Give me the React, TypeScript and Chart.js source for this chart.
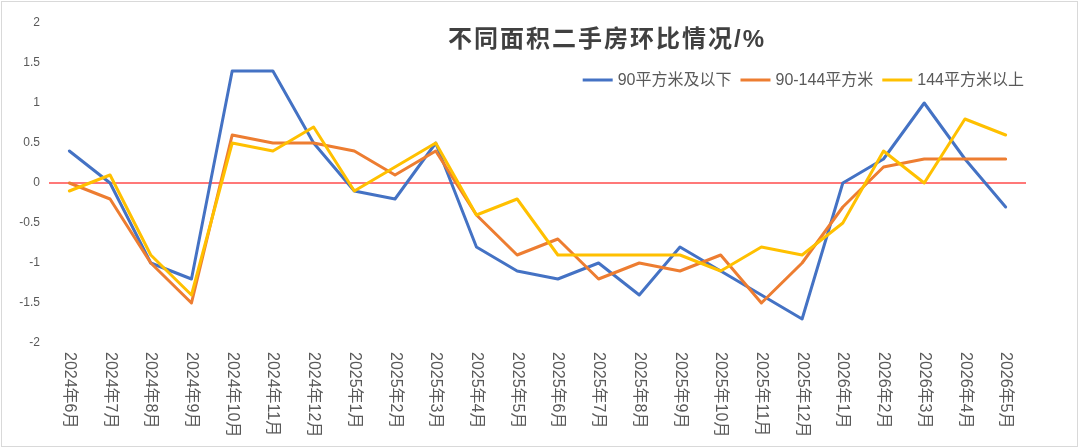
import React, { useEffect, useRef } from "react";
import { Chart, registerables } from "chart.js";

Chart.register(...registerables);

const categories = [
  "2024年6月", "2024年7月", "2024年8月", "2024年9月", "2024年10月", "2024年11月", "2024年12月",
  "2025年1月", "2025年2月", "2025年3月", "2025年4月", "2025年5月", "2025年6月", "2025年7月",
  "2025年8月", "2025年9月", "2025年10月", "2025年11月", "2025年12月",
  "2026年1月", "2026年2月", "2026年3月", "2026年4月", "2026年5月",
];

const seriesNames = ["90平方米及以下", "90-144平方米", "144平方米以上"];

const smallArea = [0.4, 0, -1, -1.2, 1.4, 1.4, 0.5, -0.1, -0.2, 0.5, -0.8, -1.1, -1.2, -1.0, -1.4, -0.8, -1.1, -1.4, -1.7, 0, 0.3, 1.0, 0.3, -0.3];
const mediumArea = [0, -0.2, -1.0, -1.5, 0.6, 0.5, 0.5, 0.4, 0.1, 0.4, -0.4, -0.9, -0.7, -1.2, -1.0, -1.1, -0.9, -1.5, -1.0, -0.3, 0.2, 0.3, 0.3, 0.3];
const largeArea = [-0.1, 0.1, -0.9, -1.4, 0.5, 0.4, 0.7, -0.1, 0.2, 0.5, -0.4, -0.2, -0.9, -0.9, -0.9, -0.9, -1.1, -0.8, -0.9, -0.5, 0.4, 0, 0.8, 0.6];

const yTicks = [-2, -1.5, -1, -0.5, 0, 0.5, 1, 1.5, 2];
const zeroLineValue = 0;
const titleText = "不同面积二手房环比情况/%";
const seriesColors = ["#4472C4", "#ED7D31", "#FFC000"];

const LATIN_CJK = "'Liberation Sans', 'Noto Sans CJK SC', sans-serif";

const overlayPlugin = {
  id: "overlay",
  beforeDatasetsDraw(chart: any) {
    const { ctx, chartArea, scales } = chart;
    const py = Math.round(scales.y.getPixelForValue(zeroLineValue));
    ctx.save();
    ctx.strokeStyle = "rgba(255,30,30,0.8)";
    ctx.lineWidth = 1.6;
    ctx.beginPath();
    ctx.moveTo(chartArea.left, py);
    ctx.lineTo(chartArea.right, py);
    ctx.stroke();
    ctx.restore();
  },
  afterDraw(chart: any) {
    const { ctx, chartArea, scales } = chart;
    const xs = scales.x;
    ctx.save();

    // rotated category labels (clockwise, reading top-to-bottom)
    ctx.fillStyle = "#595959";
    ctx.font = `16px ${LATIN_CJK}`;
    ctx.textAlign = "left";
    ctx.textBaseline = "middle";
    categories.forEach((c, i) => {
      const px = xs.getPixelForTick(i);
      ctx.save();
      ctx.translate(px, chartArea.bottom + 9);
      ctx.rotate(Math.PI / 2);
      ctx.fillText(c, 0, 0);
      ctx.restore();
    });

    // title
    ctx.save();
    ctx.fillStyle = "#404040";
    ctx.font = `bold 24px ${LATIN_CJK}`;
    (ctx as any).letterSpacing = "2px";
    ctx.textAlign = "center";
    ctx.textBaseline = "middle";
    ctx.fillText(titleText, 605, 38);
    ctx.restore();

    // legend
    ctx.font = `16px ${LATIN_CJK}`;
    ctx.textAlign = "left";
    ctx.textBaseline = "middle";
    const ds = chart.data.datasets;
    const lineW = 30;
    const gap = 5;
    const itemGap = 9;
    const widths = ds.map((d: any) => ctx.measureText(d.label).width);
    const total = widths.reduce((a: number, w: number) => a + lineW + gap + w, 0) + itemGap * (ds.length - 1);
    let x = chartArea.right - 2 - total;
    const y = 78;
    ds.forEach((d: any, i: number) => {
      ctx.strokeStyle = d.borderColor;
      ctx.lineWidth = 3;
      ctx.beginPath();
      ctx.moveTo(x, y);
      ctx.lineTo(x + lineW, y);
      ctx.stroke();
      ctx.fillStyle = "#595959";
      ctx.fillText(d.label, x + lineW + gap, y + 1);
      x += lineW + gap + widths[i] + itemGap;
    });

    ctx.restore();
  },
};

export default function App() {
  const ref = useRef<HTMLCanvasElement | null>(null);

  useEffect(() => {
    if (!ref.current) return;
    const series = [smallArea, mediumArea, largeArea];
    const chart = new Chart(ref.current, {
      type: "line",
      data: {
        labels: categories,
        datasets: series.map((data, i) => ({
          label: seriesNames[i],
          data,
          borderColor: seriesColors[i],
          backgroundColor: seriesColors[i],
          borderWidth: 3,
          pointRadius: 0,
          pointHoverRadius: 0,
          tension: 0,
          fill: false,
          borderJoinStyle: "round" as const,
          borderCapStyle: "round" as const,
          order: 3 - i,
        })),
      },
      options: {
        responsive: false,
        animation: false,
        devicePixelRatio: 1,
        layout: { padding: { left: 0, right: 51, top: 21, bottom: 0 } },
        plugins: {
          legend: { display: false },
          title: { display: false },
          tooltip: { enabled: false },
        },
        scales: {
          x: {
            type: "category",
            offset: true,
            grid: { display: false },
            border: { display: false },
            ticks: { display: false },
            afterFit: (s: any) => {
              s.height = 103;
            },
          },
          y: {
            min: -2,
            max: 2,
            afterBuildTicks: (s: any) => {
              s.ticks = yTicks.map((v) => ({ value: v }));
            },
            afterFit: (s: any) => {
              s.width = 47;
            },
            border: { display: false },
            grid: { display: false, drawTicks: false },
            ticks: {
              padding: 9,
              color: "#595959",
              font: { size: 12, family: LATIN_CJK },
              callback: (v: any) => String(v),
            },
          },
        },
      },
      plugins: [overlayPlugin],
    });
    return () => chart.destroy();
  }, []);

  return (
    <div style={{ position: "fixed", left: 0, top: 0, width: 1080, height: 448, background: "#fff" }}>
      <div
        style={{
          position: "absolute",
          left: 1,
          top: 1,
          width: 1077,
          height: 446,
          boxSizing: "border-box",
          border: "1px solid #D9D9D9",
          background: "#fff",
        }}
      >
        <canvas ref={ref} width={1075} height={444} style={{ display: "block", width: 1075, height: 444 }} />
      </div>
    </div>
  );
}
